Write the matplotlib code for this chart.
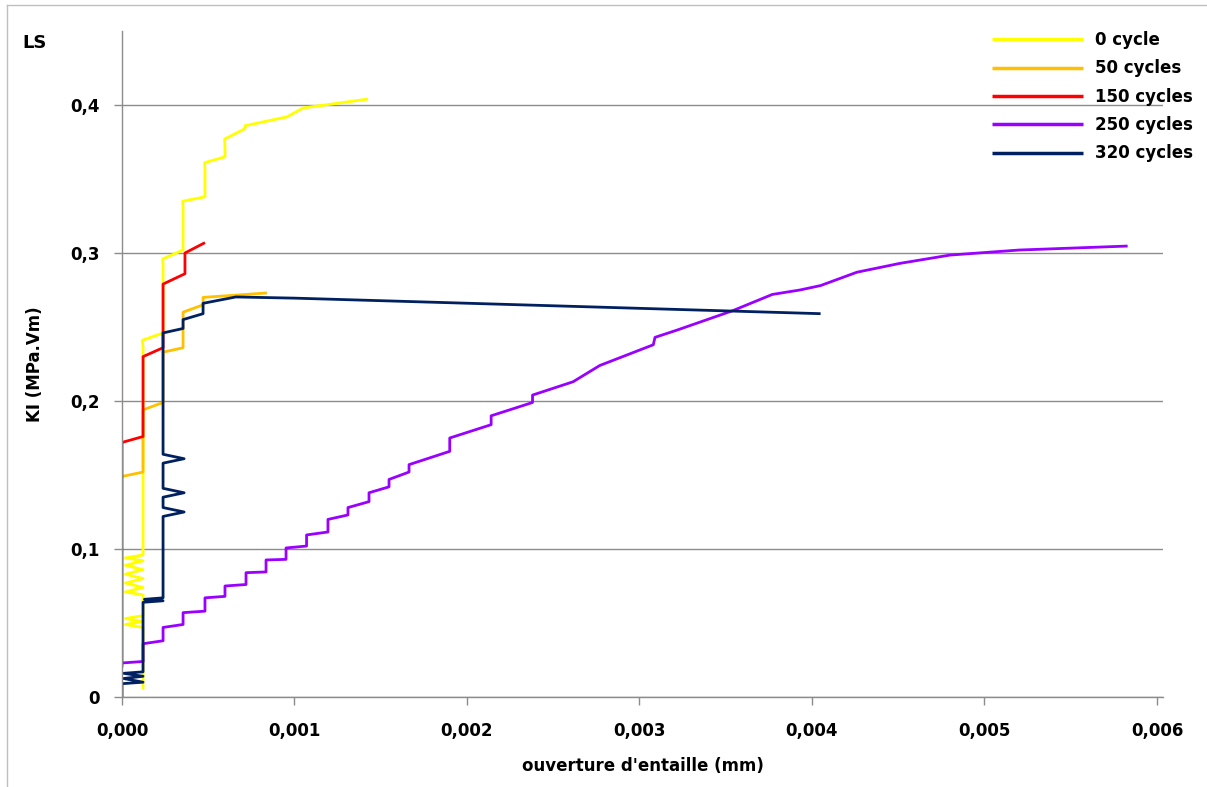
import matplotlib
matplotlib.use("Agg")
import matplotlib.pyplot as plt
from matplotlib.ticker import FuncFormatter
from matplotlib.lines import Line2D

plt.rcParams['font.family'] = ['DejaVu Sans']

# x values in units of 1e-3 mm, y in MPa.Vm
x_0 = [0.122, 0.122, 0.02, 0.122, 0.02, 0.122, 0.122, 0.02, 0.122, 0.02, 0.122, 0.02, 0.122, 0.02, 0.122, 0.02, 0.122,
       0.122, 0.118, 0.238, 0.238, 0.236, 0.354, 0.354, 0.352, 0.481, 0.481, 0.479, 0.597, 0.597, 0.595, 0.713, 0.713,
       0.957, 1.05, 1.426]
y_0 = [0.005, 0.047, 0.049, 0.051, 0.053, 0.055, 0.069, 0.071, 0.074, 0.077, 0.080, 0.083, 0.086, 0.089, 0.092, 0.094, 0.096,
       0.236, 0.241, 0.246, 0.292, 0.296, 0.302, 0.331, 0.335, 0.338, 0.356, 0.361, 0.365, 0.371, 0.377, 0.384, 0.386,
       0.392, 0.398, 0.404]

x_50 = [0.0, 0.122, 0.122, 0.238, 0.238, 0.354, 0.354, 0.47, 0.47, 0.84]
y_50 = [0.149, 0.152, 0.194, 0.199, 0.233, 0.236, 0.260, 0.265, 0.270, 0.273]

x_150 = [0.0, 0.0, 0.122, 0.122, 0.238, 0.238, 0.365, 0.365, 0.481]
y_150 = [0.020, 0.172, 0.176, 0.230, 0.236, 0.279, 0.286, 0.300, 0.307]

x_250 = [0.0, 0.122, 0.122, 0.238, 0.238, 0.354, 0.354, 0.481, 0.481, 0.597, 0.597, 0.719, 0.719, 0.835, 0.835, 0.951,
         0.951, 1.07, 1.07, 1.194, 1.194, 1.310, 1.310, 1.432, 1.432, 1.548, 1.548, 1.664, 1.664, 1.9, 1.9, 2.14, 2.14,
         2.38, 2.38, 2.615, 2.77, 3.08, 3.09, 3.22, 3.54, 3.77, 3.93, 4.05, 4.26, 4.51, 4.80, 5.2, 5.83]
y_250 = [0.023, 0.024, 0.036, 0.038, 0.047, 0.049, 0.057, 0.058, 0.067, 0.068, 0.075, 0.076, 0.084, 0.0845, 0.0926, 0.093,
         0.1007, 0.102, 0.1095, 0.1115, 0.120, 0.123, 0.128, 0.132, 0.138, 0.142, 0.147, 0.152, 0.157, 0.166, 0.175, 0.184,
         0.190, 0.199, 0.204, 0.213, 0.224, 0.238, 0.243, 0.248, 0.261, 0.272, 0.275, 0.278, 0.287, 0.293, 0.2986, 0.302, 0.3047]

x_320 = [0.0, 0.0, 0.122, 0.01, 0.122, 0.01, 0.122, 0.122, 0.238, 0.13, 0.238, 0.238, 0.36, 0.238, 0.238, 0.36, 0.238,
         0.238, 0.36, 0.238, 0.238, 0.354, 0.354, 0.47, 0.47, 0.66, 1.0, 4.05]
y_320 = [0.0, 0.009, 0.010, 0.0125, 0.014, 0.016, 0.017, 0.064, 0.065, 0.066, 0.067, 0.122, 0.125, 0.128, 0.135, 0.138,
         0.141, 0.158, 0.161, 0.164, 0.246, 0.249, 0.255, 0.259, 0.266, 0.2703, 0.2695, 0.259]

series = [
    ("0 cycle", x_0, y_0, "#FFFF00"),
    ("50 cycles", x_50, y_50, "#FFC000"),
    ("150 cycles", x_150, y_150, "#FF0000"),
    ("250 cycles", x_250, y_250, "#9900FF"),
    ("320 cycles", x_320, y_320, "#002060"),
]

x_ticks = [0.0, 0.001, 0.002, 0.003, 0.004, 0.005, 0.006]
y_ticks = [0.0, 0.1, 0.2, 0.3, 0.4]

fig = plt.figure(figsize=(12.07, 7.87), dpi=100)
ax = fig.add_axes([122/1207, 1-697/787, (1163-122)/1207, (697-31)/787])

for label, xs, ys, col in series:
    ax.plot([v * 1e-3 for v in xs], ys, color=col, lw=2.0, label=label,
            solid_joinstyle='round', solid_capstyle='butt')

ax.set_xlim(0, 0.006035)
ax.set_ylim(0, 0.45)
ax.set_xticks(x_ticks)
ax.set_yticks(y_ticks)

def fx(v, p):
    return f"{v:.3f}".replace('.', ',')

def fy(v, p):
    if abs(v) < 1e-9:
        return "0"
    return f"{v:.1f}".replace('.', ',')

ax.xaxis.set_major_formatter(FuncFormatter(fx))
ax.yaxis.set_major_formatter(FuncFormatter(fy))

gcol = '#8C8C8C'
ax.grid(axis='y', color=gcol, lw=1.0)
ax.set_axisbelow(True)
for s in ['top', 'right']:
    ax.spines[s].set_visible(False)
for s in ['left', 'bottom']:
    ax.spines[s].set_color(gcol)
    ax.spines[s].set_linewidth(1.0)
ax.tick_params(axis='x', direction='out', length=6, color=gcol, width=1.0, labelsize=12, pad=12)
ax.tick_params(axis='y', direction='out', length=6, color=gcol, width=1.0, labelsize=12, pad=10)
for t in ax.get_xticklabels() + ax.get_yticklabels():
    t.set_fontweight('bold')

ax.set_xlabel("ouverture d'entaille (mm)", fontsize=12, fontweight='bold', labelpad=12)
ax.set_ylabel("KI (MPa.Vm)", fontsize=12, fontweight='bold', labelpad=19)

fig.text(22/1207, 1-43/787, "LS", fontsize=13, fontweight='bold', va='center', ha='left')

leg = ax.legend(loc='upper right', bbox_to_anchor=(1193/1207, 1-31/787), bbox_transform=fig.transFigure,
                frameon=False, prop={'size': 12, 'weight': 'bold'}, handlelength=5.5,
                handletextpad=0.7, labelspacing=0.62, borderaxespad=0, borderpad=0)
for h in leg.get_lines():
    h.set_linewidth(2.5)

# figure border
fig.add_artist(Line2D([7/1207, 7/1207], [0, 1-5/787], color='#BFBFBF', lw=1.0, transform=fig.transFigure))
fig.add_artist(Line2D([7/1207, 1], [1-5/787, 1-5/787], color='#BFBFBF', lw=1.0, transform=fig.transFigure))

fig.savefig("out.png", dpi=100)
